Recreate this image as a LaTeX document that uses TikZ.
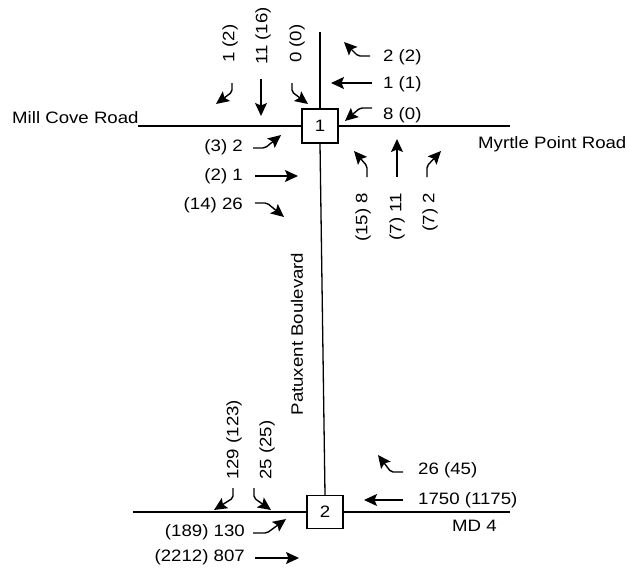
\documentclass[tikz,border=0pt]{standalone}
\usepackage{fontspec}
\setmainfont{Liberation Sans}[FakeStretch=1.13]
\usepackage{tikz}
\usetikzlibrary{arrows.meta, positioning}

\begin{document}
\begin{tikzpicture}[
    x=1pt, y=-1pt,
    font=\fontsize{16.5}{18}\selectfont,
    road/.style={line width=1.3pt},
    sigbox/.style={rectangle, draw, line width=1.3pt, fill=white, minimum width=36pt, minimum height=34pt, inner sep=0pt},
    vol/.style={inner sep=0pt},
    volup/.style={inner sep=0pt, rotate=90},
    mv/.style={-{Stealth[length=13pt,width=12pt,inset=2.5pt]}, line width=1.4pt},
    turn/.style={mv, rounded corners=2pt}
]
    \useasboundingbox (0,0) rectangle (629,581);

    % Nodes
    \node[sigbox] (int1) at (320,126) {1};
    \node[sigbox, minimum height=33pt] (int2) at (325,512) {2};

    \coordinate (millW) at (138,126);
    \coordinate (myrtE) at (510,126);
    \coordinate (patN) at (320,32);
    \coordinate (md4W) at (133,512);
    \coordinate (md4E) at (510,512);

    % Road names
    \node[vol, anchor=base west] (millname) at (12,123) {Mill Cove Road};
    \node[vol, anchor=base west] (myrtname) at (478,148) {Myrtle Point Road};
    \node[vol, anchor=base west] (md4name) at (452,531) {MD 4};
    \node[volup] (patname) at (297,334) {Patuxent Boulevard};

    % Volumes, intersection 1
    \node[volup, anchor=west] (sb1l) at (230,63) {1 (2)};
    \node[volup, anchor=west] (sb1t) at (263,65) {11 (16)};
    \node[volup, anchor=west] (sb1r) at (297,63) {0 (0)};
    \node[vol, anchor=west] (wb1l) at (383,57) {2 (2)};
    \node[vol, anchor=west] (wb1t) at (383,84) {1 (1)};
    \node[vol, anchor=west] (wb1r) at (383,115) {8 (0)};
    \node[volup, anchor=east] (nb1l) at (363,193) {(15) 8};
    \node[volup, anchor=east] (nb1t) at (397,193) {(7) 11};
    \node[volup, anchor=east] (nb1r) at (430,193) {(7) 2};
    \node[vol, anchor=east] (eb1l) at (243,147) {(3) 2};
    \node[vol, anchor=east] (eb1t) at (243,176) {(2) 1};
    \node[vol, anchor=east] (eb1r) at (243,205) {(14) 26};

    % Volumes, intersection 2
    \node[volup, anchor=west] (sb2l) at (234,480) {129 (123)};
    \node[volup, anchor=west] (sb2r) at (267,480) {25 (25)};
    \node[vol, anchor=west] (wb2l) at (418,470) {26 (45)};
    \node[vol, anchor=west] (wb2t) at (418,500) {1750 (1175)};
    \node[vol, anchor=east] (eb2l) at (245,532) {(189) 130};
    \node[vol, anchor=east] (eb2t) at (245,557) {(2212) 807};

    % Roads
    \draw[road] (millW) -- (int1.west);
    \draw[road] (int1.east) -- (myrtE);
    \draw[road] (patN) -- (int1.north);
    \draw[road] (int1.south) -- (int2.north);
    \draw[road] (md4W) -- (int2.west);
    \draw[road] (int2.east) -- (md4E);

    % Movements, intersection 1
    \draw[turn] (232,83) -- (232,92) -- (216,104);
    \draw[mv] (261,79) -- (261,116);
    \draw[turn] (292,83) -- (292,92) -- (308,104);
    \draw[turn] (370,56) -- (358,56) -- (344,42);
    \draw[mv] (372,83) -- (331,83);
    \draw[turn] (372,108) -- (360,108) -- (345,121);
    \draw[turn] (367,177) -- (367,166) -- (354,151);
    \draw[mv] (397,177) -- (397,139);
    \draw[turn] (427,177) -- (427,166) -- (441,151);
    \draw[turn] (253,148) -- (265,148) -- (281,135);
    \draw[mv] (255,176) -- (298,176);
    \draw[turn] (255,203) -- (267,203) -- (284,217);

    % Movements, intersection 2
    \draw[turn] (233,488) -- (233,498) -- (214,510);
    \draw[turn] (254,488) -- (254,498) -- (271,510);
    \draw[turn] (403,472) -- (391,472) -- (378,455);
    \draw[mv] (403,500) -- (364,500);
    \draw[turn] (253,533) -- (267,533) -- (286,519);
    \draw[mv] (255,558) -- (299,558);

\end{tikzpicture}
\end{document}
